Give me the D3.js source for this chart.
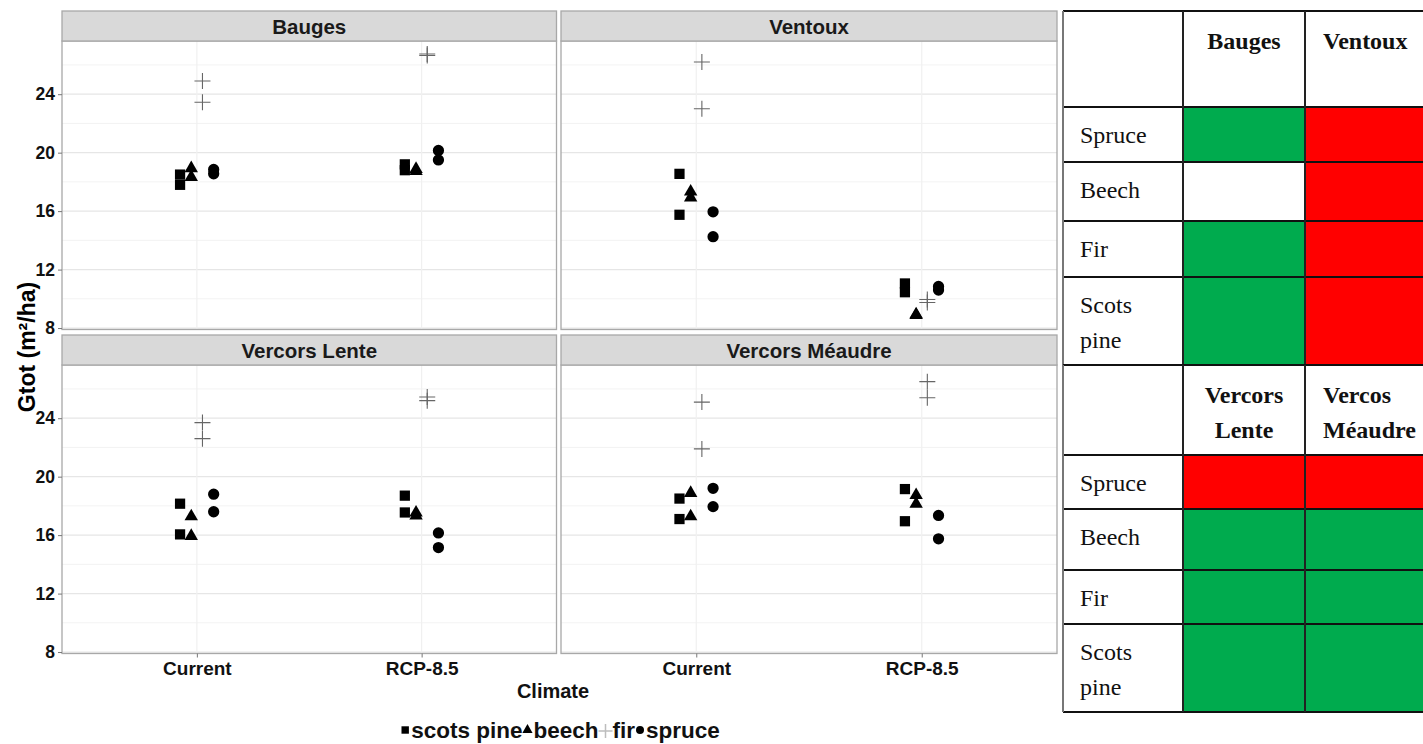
<!DOCTYPE html>
<html>
<head>
<meta charset="utf-8">
<script src="https://cdn.jsdelivr.net/npm/d3@7"></script>
<style>
  html, body { margin: 0; padding: 0; background: #fff; }
  svg { display: block; }
</style>
</head>
<body>
<svg id="chart" width="1423" height="744"></svg>
<script>
// ---------------- DATA ----------------
const sites = ["Bauges", "Ventoux", "Vercors Lente", "Vercors Méaudre"];
const climates = ["Current", "RCP-8.5"];
const species = ["scots pine", "beech", "fir", "spruce"];
const yTicks = [8, 12, 16, 20, 24];

// Gtot values (m²/ha), two runs per site × climate, order:
// Bauges Cur, Bauges RCP, Ventoux Cur, Ventoux RCP, Lente Cur, Lente RCP, Méaudre Cur, Méaudre RCP
const scotsPineGtot = [18.5, 17.8, 19.2, 18.8, 18.55, 15.75, 11.05, 10.45, 18.15, 16.05, 18.7, 17.55, 18.5, 17.1, 19.15, 16.95];
const beechGtot     = [19.0, 18.4, 18.95, 18.8, 17.4, 17.0, 9.0, 8.95, 17.35, 16.0, 17.6, 17.4, 18.95, 17.35, 18.8, 18.2];
const firGtot       = [24.9, 23.45, 26.75, 26.65, 26.2, 23.0, 9.95, 9.75, 23.7, 22.6, 25.45, 25.2, 25.1, 21.9, 26.5, 25.4];
const spruceGtot    = [18.85, 18.55, 20.15, 19.5, 15.95, 14.25, 10.85, 10.6, 18.8, 17.6, 16.15, 15.15, 19.2, 17.95, 17.35, 15.75];

// Table (right)
const tableRowLabels = [["Spruce"], ["Beech"], ["Fir"], ["Scots", "pine"]];
const tableTopHeaders = [["Bauges"], ["Ventoux"]];
const tableBottomHeaders = [["Vercors", "Lente"], ["Vercos", "Méaudre"]];
// status per species row (Spruce, Beech, Fir, Scots pine): "g" green, "r" red, "w" none
const baugesStatus       = ["g", "w", "g", "g"];
const ventouxStatus      = ["r", "r", "r", "r"];
const vercorsLenteStatus = ["r", "g", "g", "g"];
const vercosMeaudreStatus = ["r", "g", "g", "g"];

// ---------------- BUILD ROWS ----------------
const seriesBySpecies = [scotsPineGtot, beechGtot, firGtot, spruceGtot];
const points = [];
species.forEach((sp, si) => {
  seriesBySpecies[si].forEach((v, i) => {
    const site = sites[Math.floor(i / 4)];
    const climate = climates[Math.floor((i % 4) / 2)];
    points.push({ site, climate, species: sp, value: v });
  });
});

// ---------------- LAYOUT ----------------
const svg = d3.select("#chart");
const FONT = "'Liberation Sans', Arial, Helvetica, sans-serif";
const SERIF = "'Liberation Serif', 'Times New Roman', serif";

const colX = [[62, 556.5], [561, 1057]];
const rowY = [{ strip: [11, 41], plot: [41, 329.5] }, { strip: [335, 365], plot: [365, 653.5] }];

const y0 = d3.scaleLinear().domain([7.9, 27.64]);
const minorTicks = [10, 14, 18, 22, 26];

const speciesOffset = d3.scalePoint().domain(species).range([-16.8, 16.8]);

const symbolGen = {
  "scots pine": d3.symbol().type(d3.symbolSquare).size(105),
  "beech": d3.symbol().type(d3.symbolTriangle).size(78),
  "spruce": d3.symbol().type(d3.symbolCircle).size(100)
};

sites.forEach((site, k) => {
  const c = k % 2, r = Math.floor(k / 2);
  const [xl, xr] = colX[c];
  const pr = rowY[r];
  const y = y0.copy().range([pr.plot[1], pr.plot[0]]);
  const x = d3.scalePoint().domain(climates).range([xl, xr]).padding(0.6);
  const g = svg.append("g");

  g.append("rect").attr("x", xl).attr("y", pr.plot[0]).attr("width", xr - xl).attr("height", pr.plot[1] - pr.plot[0])
    .attr("fill", "#fff");

  g.selectAll(".minor").data(minorTicks).join("line")
    .attr("x1", xl).attr("x2", xr).attr("y1", d => y(d)).attr("y2", d => y(d))
    .attr("stroke", "#f3f3f3").attr("stroke-width", 1);
  g.selectAll(".major").data(yTicks).join("line")
    .attr("x1", xl).attr("x2", xr).attr("y1", d => y(d)).attr("y2", d => y(d))
    .attr("stroke", "#e6e6e6").attr("stroke-width", 1.2);
  g.selectAll(".vgrid").data(climates).join("line")
    .attr("x1", d => x(d)).attr("x2", d => x(d)).attr("y1", pr.plot[0]).attr("y2", pr.plot[1])
    .attr("stroke", "#f0f0f0").attr("stroke-width", 1.2);

  const data = points.filter(p => p.site === site);
  data.forEach(p => {
    const px = x(p.climate) + speciesOffset(p.species);
    const py = y(p.value);
    if (p.species === "fir") {
      g.append("path")
        .attr("d", `M${px - 8},${py}H${px + 8}M${px},${py - 8}V${py + 8}`)
        .attr("stroke", "#666").attr("stroke-width", 1.1).attr("fill", "none");
    } else {
      g.append("path")
        .attr("d", symbolGen[p.species]())
        .attr("transform", `translate(${px},${py + (p.species === "beech" ? 1 : 0)})`)
        .attr("fill", "#000");
    }
  });

  g.append("rect").attr("x", xl).attr("y", pr.plot[0]).attr("width", xr - xl).attr("height", pr.plot[1] - pr.plot[0])
    .attr("fill", "none").attr("stroke", "#a8a8a8").attr("stroke-width", 1.3);

  g.append("rect").attr("x", xl).attr("y", pr.strip[0]).attr("width", xr - xl).attr("height", pr.strip[1] - pr.strip[0])
    .attr("fill", "#d9d9d9").attr("stroke", "#a8a8a8").attr("stroke-width", 1.3);
  g.append("text").attr("x", (xl + xr) / 2).attr("y", (pr.strip[0] + pr.strip[1]) / 2 + 7.5)
    .attr("text-anchor", "middle").attr("font-family", FONT).attr("font-weight", "bold")
    .attr("font-size", 20.5).attr("fill", "#1a1a1a").text(site);

  if (c === 0) {
    const ax = g.append("g").attr("transform", `translate(${xl},0)`)
      .call(d3.axisLeft(y).tickValues(yTicks).tickSize(4).tickPadding(3));
    ax.select(".domain").remove();
    ax.selectAll("line").attr("stroke", "#777");
    ax.selectAll("text").attr("font-family", FONT).attr("font-weight", "bold").attr("font-size", 17.5).attr("fill", "#111");
  }
  if (r === 1) {
    const ax = g.append("g").attr("transform", `translate(0,${pr.plot[1]})`)
      .call(d3.axisBottom(x).tickSize(4).tickPadding(4));
    ax.select(".domain").remove();
    ax.selectAll("line").attr("stroke", "#777");
    ax.selectAll("text").attr("font-family", FONT).attr("font-weight", "bold").attr("font-size", 19).attr("fill", "#111");
  }
});

// axis titles
svg.append("text").attr("transform", "translate(35,347) rotate(-90)")
  .attr("text-anchor", "middle").attr("font-family", FONT).attr("font-weight", "bold").attr("font-size", 23)
  .attr("fill", "#000").text("Gtot (m²/ha)");
svg.append("text").attr("x", 553).attr("y", 698)
  .attr("text-anchor", "middle").attr("font-family", FONT).attr("font-weight", "bold").attr("font-size", 20)
  .attr("fill", "#111").text("Climate");

// legend
const legend = svg.append("g");
let lx = 0;
const legY = 730;
const legendSymbols = {
  "scots pine": d3.symbol().type(d3.symbolSquare).size(55),
  "beech": d3.symbol().type(d3.symbolTriangle).size(45),
  "spruce": d3.symbol().type(d3.symbolCircle).size(50)
};
species.forEach(s => {
  const gi = legend.append("g").attr("transform", `translate(${lx},0)`);
  let w;
  if (s === "fir") {
    gi.append("path").attr("d", `M0,${legY + 1}H14M7,${legY - 6}V${legY + 8}`)
      .attr("stroke", "#bdbdbd").attr("stroke-width", 1.5).attr("fill", "none");
    w = 14;
  } else {
    gi.append("path").attr("d", legendSymbols[s]()).attr("transform", `translate(5,${legY})`).attr("fill", "#000");
    w = 11;
  }
  const t = gi.append("text").attr("x", w).attr("y", legY + 8)
    .attr("font-family", FONT).attr("font-weight", "bold").attr("font-size", 22.5).attr("fill", "#111").text(s);
  lx += w + t.node().getComputedTextLength();
});
legend.attr("transform", `translate(${560 - lx / 2},0)`);

// ---------------- TABLE ----------------
const colEdges = [1063, 1183, 1305, 1428];
const tables = [
  { rows: [11, 107, 162, 221, 277, 365], headers: tableTopHeaders, status: [baugesStatus, ventouxStatus] },
  { rows: [365, 455, 509, 570, 624, 712], headers: tableBottomHeaders, status: [vercorsLenteStatus, vercosMeaudreStatus] }
];
const fillColor = { g: "#00ab4e", r: "#ff0000", w: "#ffffff" };
const tg = svg.append("g");
tables.forEach(tb => {
  tb.status.forEach((col, ci) => {
    col.forEach((st, ri) => {
      tg.append("rect").attr("x", colEdges[ci + 1]).attr("y", tb.rows[ri + 1])
        .attr("width", colEdges[ci + 2] - colEdges[ci + 1]).attr("height", tb.rows[ri + 2] - tb.rows[ri + 1])
        .attr("fill", fillColor[st]);
    });
  });
  tb.headers.forEach((lines, ci) => {
    lines.forEach((ln, li) => {
      const t = tg.append("text").attr("y", tb.rows[0] + 38 + li * 35)
        .attr("font-family", SERIF).attr("font-weight", "bold").attr("font-size", 24).attr("fill", "#111").text(ln);
      if (ci === 0) t.attr("x", (colEdges[1] + colEdges[2]) / 2).attr("text-anchor", "middle");
      else t.attr("x", colEdges[2] + 18);
    });
  });
  tableRowLabels.forEach((lines, ri) => {
    lines.forEach((ln, li) => {
      tg.append("text").attr("x", colEdges[0] + 17).attr("y", tb.rows[ri + 1] + 36 + li * 35)
        .attr("font-family", SERIF).attr("font-size", 24).attr("fill", "#111").text(ln);
    });
  });
  tb.rows.forEach(ry => {
    tg.append("line").attr("x1", colEdges[0]).attr("x2", colEdges[3]).attr("y1", ry).attr("y2", ry)
      .attr("stroke", "#111").attr("stroke-width", 2);
  });
  colEdges.forEach((cx, i) => {
    tg.append("line").attr("x1", cx).attr("x2", cx).attr("y1", tb.rows[0]).attr("y2", tb.rows[tb.rows.length - 1])
      .attr("stroke", i === 0 ? "#777" : "#222").attr("stroke-width", 2);
  });
});
</script>
</body>
</html>
